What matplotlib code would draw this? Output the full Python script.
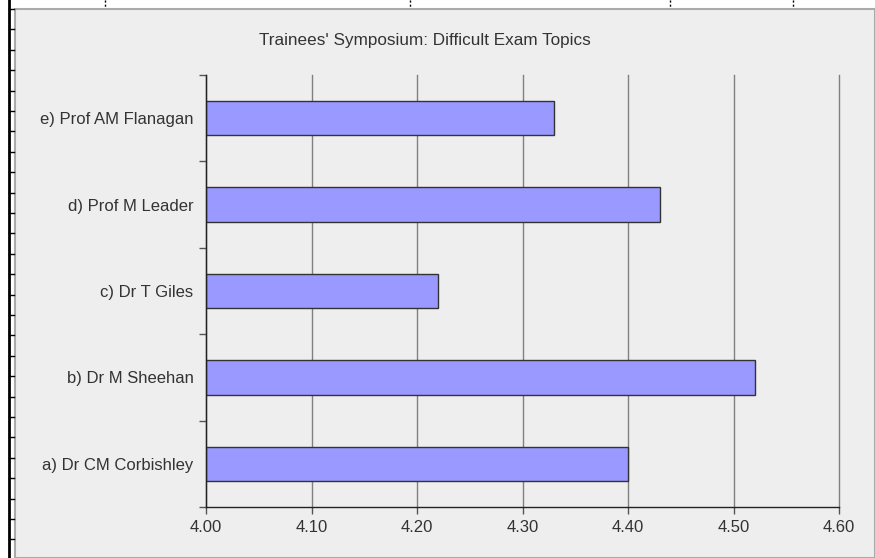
import numpy as np
import matplotlib.pyplot as plt
from matplotlib.patches import Rectangle
from matplotlib.lines import Line2D

plt.rcParams['font.family'] = ['Liberation Sans', 'DejaVu Sans']

speakers = ['a) Dr CM Corbishley', 'b) Dr M Sheehan', 'c) Dr T Giles',
            'd) Prof M Leader', 'e) Prof AM Flanagan']
scores = [4.40, 4.52, 4.22, 4.43, 4.33]
xticks = [4.00, 4.10, 4.20, 4.30, 4.40, 4.50, 4.60]
title = "Trainees' Symposium: Difficult Exam Topics"

W, H = 875, 558
fig = plt.figure(figsize=(W / 100, H / 100), dpi=100)
fig.patch.set_facecolor('white')

# chart area background with thin gray frame
fig.patches.append(Rectangle((15 / W, 0), 1 - 15 / W, 1 - 9 / H,
                             transform=fig.transFigure, facecolor='#eeeeee',
                             edgecolor='#aaaaaa', linewidth=1.5, zorder=-2))

# spreadsheet edge artifacts: black ruler on the left, dotted marks on top
fig.lines.append(Line2D([8.5 / W, 8.5 / W], [0, 1], transform=fig.transFigure,
                        color='black', linewidth=2, zorder=-1))
for yy in np.arange(9, H, 20.4):
    fig.lines.append(Line2D([9 / W, 14 / W], [1 - yy / H, 1 - yy / H],
                            transform=fig.transFigure, color='black',
                            linewidth=1, zorder=-1))
for xx in [105, 410, 670, 793]:
    fig.lines.append(Line2D([xx / W, xx / W], [1, 1 - 8 / H],
                            transform=fig.transFigure, color='black',
                            linewidth=1, linestyle=(0, (1.5, 1.5)), zorder=-1))

ax = fig.add_axes([206 / W, 1 - 507 / H, (839 - 206) / W, (507 - 75) / H])
ax.set_facecolor('none')

ypos = np.arange(len(speakers))
ax.barh(ypos, [s - 4.0 for s in scores], left=4.0, height=0.4,
        color='#9999ff', edgecolor='#333333', linewidth=1, zorder=3)

ax.set_xlim(4.0, 4.6)
ax.set_ylim(-0.5, len(speakers) - 0.5)
ax.set_xticks(xticks)
ax.set_xticklabels([f'{t:.2f}' for t in xticks])
ax.set_yticks(ypos)
ax.set_yticklabels(speakers)
ax.set_yticks(np.arange(-0.5, len(speakers)), minor=True)

ax.grid(axis='x', color='#808080', linewidth=1, zorder=1)
for gl in ax.get_xgridlines():
    gl.set_clip_on(False)
for side in ['top', 'right']:
    ax.spines[side].set_visible(False)
for side in ['left', 'bottom']:
    ax.spines[side].set_color('#222222')
    ax.spines[side].set_linewidth(1)
    ax.spines[side].set_zorder(4)

ax.tick_params(axis='x', length=5, width=1, color='#555555', pad=4,
               labelsize=12, labelcolor='#333333')
ax.tick_params(axis='y', which='major', length=0, pad=9,
               labelsize=12, labelcolor='#333333')
ax.tick_params(axis='y', which='minor', length=5, width=1, color='#555555')

fig.text(425 / W, 1 - 40 / H, title, ha='center', va='center',
         fontsize=12.3, color='#333333')

fig.savefig('out.png', dpi=100, facecolor=fig.get_facecolor())
